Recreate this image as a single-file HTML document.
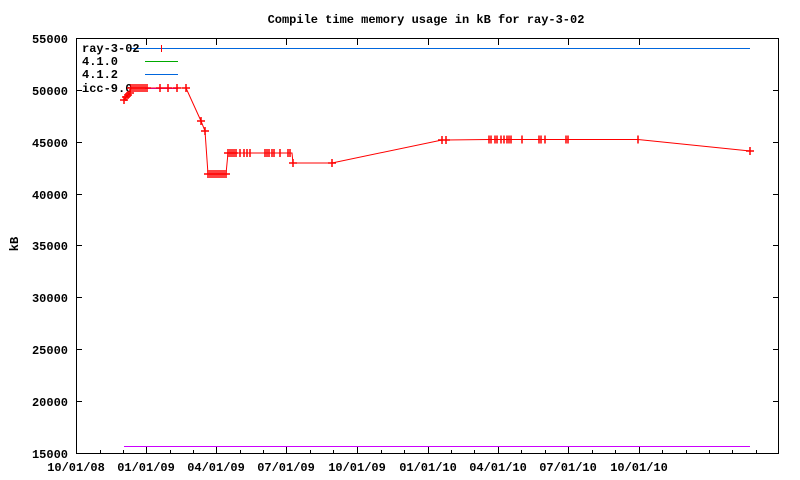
<!DOCTYPE html>
<html><head><style>
html,body{margin:0;padding:0;background:#fff;}
svg{display:block;font-family:"Liberation Mono",monospace;font-weight:bold;font-size:12px;}
</style></head><body>
<svg width="800" height="480" viewBox="0 0 800 480" xmlns="http://www.w3.org/2000/svg">
<rect width="800" height="480" fill="#fff"/>
<text x="426" y="23" text-anchor="middle">Compile time memory usage in kB for ray-3-02</text>
<text x="20" y="246" text-anchor="middle" transform="rotate(-90 18 246)">kB</text>
<g stroke="#000" stroke-width="1" fill="none">
<rect x="76.5" y="38.5" width="702" height="415"/>
<path d="M76 38.5h6M76 90.5h6M76 142.5h6M76 194.5h6M76 245.5h6M76 297.5h6M76 349.5h6M76 401.5h6M76 453.5h6
M779 38.5h-6M779 90.5h-6M779 142.5h-6M779 194.5h-6M779 245.5h-6M779 297.5h-6M779 349.5h-6M779 401.5h-6"/>
<path d="M146.5 453v-6M216.5 453v-6M286.5 453v-6M357.5 453v-6M428.5 453v-6M498.5 453v-6M568.5 453v-6M639.5 453v-6
M100.5 453v-3M123.5 453v-3M170.5 453v-3M193.5 453v-3M240.5 453v-3M263.5 453v-3M310.5 453v-3M333.5 453v-3M381.5 453v-3M404.5 453v-3M451.5 453v-3M474.5 453v-3M521.5 453v-3M545.5 453v-3M592.5 453v-3M615.5 453v-3M662.5 453v-3M686.5 453v-3M709.5 453v-3M732.5 453v-3M756.5 453v-3
M146.5 39v6M216.5 39v6M286.5 39v6M357.5 39v6M428.5 39v6M498.5 39v6M568.5 39v6M639.5 39v6"/>
</g>
<g text-anchor="end">
<text x="68" y="43">55000</text><text x="68" y="95">50000</text><text x="68" y="147">45000</text>
<text x="68" y="199">40000</text><text x="68" y="250">35000</text><text x="68" y="302">30000</text>
<text x="68" y="354">25000</text><text x="68" y="406">20000</text><text x="68" y="458">15000</text>
</g>
<g text-anchor="middle">
<text x="76" y="471">10/01/08</text><text x="146" y="471">01/01/09</text><text x="216" y="471">04/01/09</text>
<text x="286" y="471">07/01/09</text><text x="357" y="471">10/01/09</text><text x="428" y="471">01/01/10</text>
<text x="498" y="471">04/01/10</text><text x="568" y="471">07/01/10</text><text x="639" y="471">10/01/10</text>
</g>
<line x1="130" y1="48.5" x2="750" y2="48.5" stroke="#0066dd" stroke-width="1"/>
<line x1="124" y1="446.5" x2="750" y2="446.5" stroke="#cc00ff" stroke-width="1"/>
<line x1="145" y1="61.5" x2="178" y2="61.5" stroke="#00aa00"/>
<line x1="145" y1="74.5" x2="178" y2="74.5" stroke="#0066dd"/>
<line x1="145" y1="88.5" x2="178" y2="88.5" stroke="#cc00ff"/>
<line x1="161.5" y1="45" x2="161.5" y2="52" stroke="#f00"/>
<text x="82" y="52">ray-3-02</text><text x="82" y="65">4.1.0</text><text x="82" y="78">4.1.2</text><text x="82" y="92">icc-9.0</text>
<polyline fill="none" stroke="#f00" stroke-width="1" points="124,100 126,97 128,95 130,93 131,88 147,88 160,88 168,88 177,88 186,88 201,121 205,131 208,174 226,174 228,153 292,153 293,163 332,163 442,140 446,140 489,139.5 511,139.5 539,139.5 545,139.5 567,139.5 638,139.5 750,151"/>
<g stroke="#f00" stroke-width="1.5" fill="none" id="m">
<path d="M120 100h8M124 96v8 M122 97h8M126 93v8 M124 95h8M128 91v8 M126 93h8M130 89v8"/>
<path d="M127 88h24M131 84v8M133 84v8M135 84v8M137 84v8M139 84v8M141 84v8M143 84v8M145 84v8M147 84v8"/>
<path d="M156 88h8M160 84v8M164 88h8M168 84v8M173 88h8M177 84v8M182 88h8M186 84v8"/>
<path d="M197 121h8M201 117v8M201 131h8M205 127v8"/>
<path d="M204 174h26M208 170v8M210 170v8M212 170v8M214 170v8M216 170v8M218 170v8M220 170v8M222 170v8M224 170v8M226 170v8"/>
<path d="M224 153h14M228 149v8M230 149v8M232 149v8M234 149v8M236 149v8M240 149v8M244 149v8M247 149v8M250 149v8M265 149v8M267 149v8M269 149v8M272 149v8M274 149v8M280 149v8M288 149v8M290 149v8"/>
<path d="M289 163h8M293 159v8M328 163h8M332 159v8"/>
<path d="M438 140h12M442 136v8M446 136v8"/>
<path d="M489 135.5v8M491 135.5v8M495 135.5v8M497 135.5v8M501 135.5v8M504 135.5v8M507 135.5v8M509 135.5v8M511 135.5v8M522 135.5v8M539 135.5v8M541 135.5v8M545 135.5v8M566 135.5v8M568 135.5v8M638 135.5v8"/>
<path d="M746 151h8M750 147v8"/>
</g>
</svg>
</body></html>
